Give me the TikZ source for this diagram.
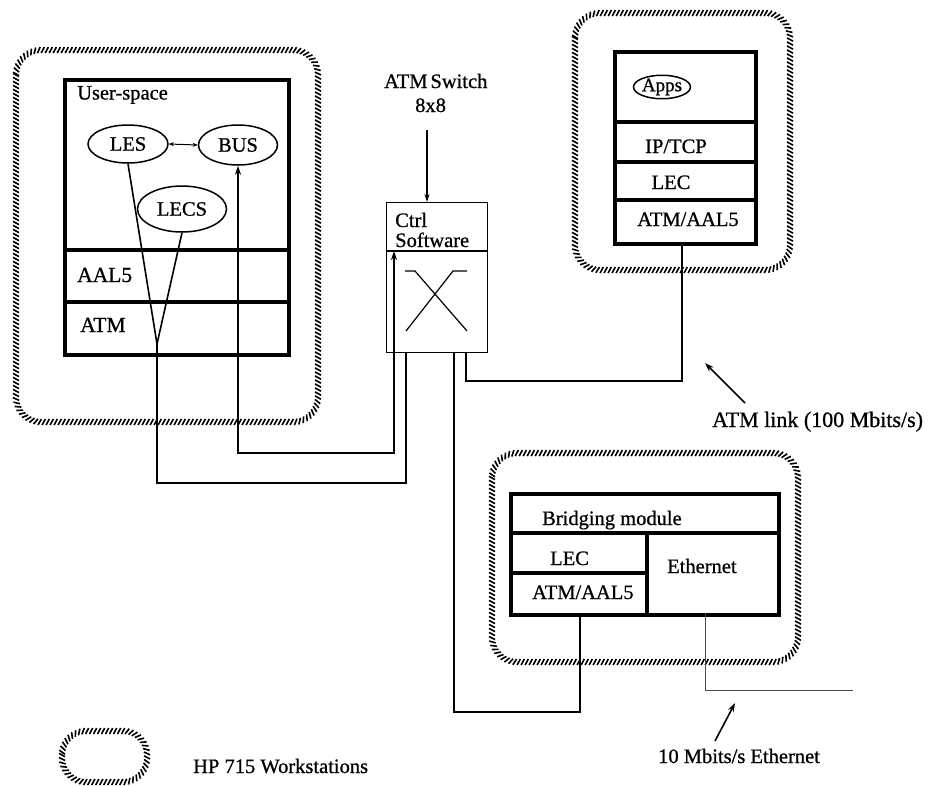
\documentclass[tikz,border=0pt]{standalone}
\usepackage{fontspec}
\setmainfont{Liberation Serif}[FakeBold=0.8]
\usetikzlibrary{arrows.meta,shapes.geometric,decorations.markings}
\begin{document}
\begin{tikzpicture}[x=1pt,y=-1pt,
  txt/.style={font=\fontsize{20.5}{24}\selectfont, inner sep=0pt},
  bigtxt/.style={font=\fontsize{21.5}{24}\selectfont, inner sep=0pt},
  layerbox/.style={draw, line width=3.5pt, inner sep=0pt, anchor=north west},
  sep/.style={line width=3.5pt},
  oval/.style={draw, ellipse, line width=1.5pt, inner sep=0pt, font=\fontsize{20.5}{24}\selectfont},
  wire/.style={line width=1.6pt},
  thinwire/.style={line width=1.1pt},
  tip/.style={-{Stealth[length=9pt,width=6pt]}},
  hatch/.style={postaction={decorate,decoration={markings,
     mark=between positions 0 and 1 step 4pt with {\draw[line width=1.6pt] (-1.6pt,-3pt) -- (1.6pt,3pt);}}}}
]
\useasboundingbox (0,0) rectangle (934,785);

% ---------- left workstation ----------
\path[hatch, rounded corners=25] (16,50) rectangle (318,422);
\node[layerbox, minimum width=224, minimum height=275] (lbox) at (63,78) {};
\draw[sep] (63,250) -- (287,250);
\draw[sep] (63,302) -- (287,302);
\node[txt, anchor=base west] (us) at (77,99.5) {User-space};
\node[oval, minimum width=80, minimum height=38] (les) at (128,144) {LES};
\node[oval, minimum width=79, minimum height=40] (bus) at (238,145) {BUS};
\node[oval, minimum width=89, minimum height=46] (lecs) at (182,209) {LECS};
\node[bigtxt, anchor=base west] (aal) at (77,282) {AAL5};
\node[bigtxt, anchor=base west] (atm) at (80,332) {ATM};
\draw[line width=1pt, {Stealth[length=5pt,width=4pt]}-{Stealth[length=5pt,width=4pt]}] (les.east) -- (bus.west);

% ---------- switch ----------
\node[txt, anchor=base west] (atms) at (384,88) {ATM\hspace{3pt}Switch};
\node[txt, anchor=base west] (n88) at (415,112) {8x8};
\node[draw, line width=1.4pt, minimum width=101, minimum height=150, inner sep=0pt, anchor=north west] (sw) at (386,202) {};
\draw[line width=1.4pt] (386,251) -- (487,251);
\node[txt, anchor=base west] (ctrl) at (395,227) {Ctrl};
\node[txt, anchor=base west] (soft) at (395,247) {Software};
\draw[line width=1.2pt] (405,271) -- (415,271) -- (467,331);
\draw[line width=1.2pt] (406,331) -- (453,271) -- (467,271);
\coordinate (swtop) at (427,130);
\draw[thinwire, -{Stealth[length=8pt,width=5pt]}] (swtop) -- (swtop |- sw.north);
\coordinate (swa) at (394,251);
\coordinate (swb) at (406,352);
\coordinate (swc) at (454,352);
\coordinate (swd) at (466,352);

% ---------- connectors from left ----------
\coordinate (conv) at (157,344);
\draw[wire] (les.south) -- (conv);
\draw[wire] (lecs.south) -- (conv) -- (157,483) -| (swb);
\draw[wire, {Stealth[length=9pt,width=6pt]}-{Stealth[length=9pt,width=6pt]}] (bus.south) -- (238,453) -| (swa);

% ---------- right workstation ----------
\path[hatch, rounded corners=25] (575,13) rectangle (790,270);
\node[layerbox, minimum width=141, minimum height=192] (rbox) at (613,50) {};
\draw[sep] (613,122) -- (754,122);
\draw[sep] (613,162) -- (754,162);
\draw[sep] (613,200) -- (754,200);
\node[oval, minimum width=57, minimum height=22, font=\fontsize{19}{20}\selectfont] (apps) at (662,87) {Apps};
\node[txt, anchor=base] (iptcp) at (676,153) {IP/TCP};
\node[txt, anchor=base] (lec1) at (671,189) {LEC};
\node[txt, anchor=base] (atma1) at (688,226) {ATM/AAL5};
\coordinate (rb) at (682,242);
\draw[wire] (swd) -- (466,381) -| (rb);

\coordinate (l1s) at (745,403);
\coordinate (l1e) at (705,363);
\draw[wire, tip] (l1s) -- (l1e);
\node[txt, font=\fontsize{22}{24}\selectfont, anchor=base west] (atmlink) at (712,427) {ATM link (100 Mbits/s)};

% ---------- bridging workstation ----------
\path[hatch, rounded corners=25] (492,453) rectangle (798,662);
\node[layerbox, minimum width=268, minimum height=121] (bbox) at (509,492) {};
\draw[sep] (509,533) -- (777,533);
\draw[sep] (647,533) -- (647,613);
\draw[sep] (509,573) -- (647,573);
\node[txt, anchor=base west] (bridge) at (542,525) {Bridging module};
\node[txt, anchor=base west] (lec2) at (550,565) {LEC};
\node[txt, anchor=base west] (atma2) at (532,599) {ATM/AAL5};
\node[txt, anchor=base west] (ethn) at (667,573) {Ethernet};
\coordinate (bb) at (580,613);
\draw[wire] (swc) -- (454,712) -| (bb);
\coordinate (eb) at (705,613);
\coordinate (eend) at (853,690);
\draw[line width=1pt, black!70] (eb) |- (eend);
\coordinate (e1s) at (715,741);
\coordinate (e1e) at (735,703);
\draw[wire, tip] (e1s) -- (e1e);
\node[txt, anchor=base west] (eth10) at (658,763) {10 Mbits/s Ethernet};

% ---------- legend ----------
\path[hatch, rounded corners=24] (62,731) rectangle (147,782);
\node[txt, anchor=base west] (legend) at (193,773) {HP 715 Workstations};
\end{tikzpicture}
\end{document}
